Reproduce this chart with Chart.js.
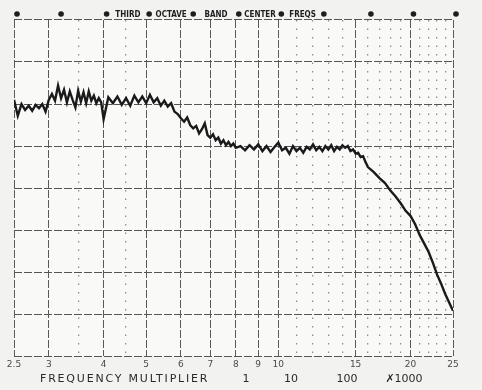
<!DOCTYPE html>
<html>
<head>
<meta charset="utf-8">
<script src="https://cdn.jsdelivr.net/npm/chart.js@4"></script>
<style>
  html, body { margin: 0; padding: 0; background: #f2f2f0; }
  #wrap { width: 482px; height: 390px; }
</style>
</head>
<body>
<div id="wrap"><canvas id="responseChart" width="482" height="390"></canvas></div>
<script>
// frequency (x) of each reading
const freqs = [
    2.5, 2.55, 2.6, 2.65, 2.7, 2.75, 2.8, 2.85, 2.9, 2.95,
    3.0, 3.05, 3.1, 3.15, 3.2, 3.25, 3.3, 3.35, 3.4, 3.45,
    3.5, 3.55, 3.6, 3.65, 3.7, 3.75, 3.8, 3.85, 3.9, 3.95, 4.0,
    4.1, 4.2, 4.3, 4.4, 4.5, 4.6, 4.7, 4.8, 4.9, 5.0,
    5.1, 5.2, 5.3, 5.4, 5.5, 5.6, 5.7, 5.8, 5.9, 6.0,
    6.1, 6.2, 6.3, 6.4, 6.5, 6.6, 6.7, 6.8, 6.9, 7.0,
    7.1, 7.2, 7.3, 7.4, 7.5, 7.6, 7.7, 7.8, 7.9, 8.0,
    8.2, 8.4, 8.6, 8.8, 9.0, 9.2, 9.4, 9.6, 9.8, 10.0,
    10.2, 10.4, 10.6, 10.8, 11.0, 11.2, 11.4, 11.6, 11.8, 12.0,
    12.2, 12.4, 12.6, 12.8, 13.0, 13.2, 13.4, 13.6, 13.8, 14.0,
    14.2, 14.4, 14.6, 14.8, 15.0, 15.2, 15.4, 15.6, 15.8, 16.0,
    16.5, 17, 17.5, 18, 18.5, 19, 19.5, 20, 20.5,
    21, 21.5, 22, 22.5, 23, 23.5, 24, 24.5, 25
];

// recorded level (dB, 5 dB per division)
const levels = [
    30.5, 28.6, 30.0, 29.3, 29.8, 29.2, 29.9, 29.5, 30.0, 29.1,
    30.5, 31.2, 30.4, 32.2, 30.7, 31.7, 30.2, 31.5, 30.5, 29.6,
    31.6, 30.3, 31.4, 30.1, 31.5, 30.4, 31.0, 30.1, 30.7, 30.2, 28.2,
    30.8, 30.1, 30.9, 29.9, 30.7, 29.8, 31.0, 30.2, 30.9, 30.1,
    31.1, 30.2, 30.7, 29.8, 30.4, 29.7, 30.1, 29.1, 28.8, 28.3,
    27.9, 28.4, 27.5, 27.1, 27.4, 26.5, 27.0, 27.7, 26.3, 26.0,
    26.4, 25.7, 26.0, 25.3, 25.7, 25.1, 25.5, 25.0, 25.3, 24.8,
    25.0, 24.5, 25.1, 24.6, 25.2, 24.4, 25.0, 24.3, 24.9, 25.4,
    24.5, 24.8, 24.1, 25.0, 24.4, 24.8, 24.2, 24.9, 24.6, 25.2,
    24.5, 24.9, 24.4, 25.0, 24.6, 25.1, 24.4, 24.9, 24.6, 25.1,
    24.8, 25.0, 24.4, 24.6, 24.1, 24.2, 23.7, 23.8, 23.1, 22.5,
    21.9, 21.2, 20.6, 19.7, 19.0, 18.2, 17.3, 16.7, 15.7,
    14.4, 13.4, 12.4, 11.1, 9.7, 8.6, 7.4, 6.4, 5.4
];

const majorTicks = [2.5, 3, 4, 5, 6, 7, 8, 9, 10, 15, 20, 25];
const minorTicks = [3.5, 4.5, 11, 12, 13, 14, 16, 17, 18, 19, 21, 22, 23, 24];
const bandCenters = [2.5, 3.15, 4, 5, 6.3, 8, 10, 12.5, 16, 20, 25];
const bandWords = ['THIRD', 'OCTAVE', 'BAND', 'CENTER', 'FREQS'];
const axisTitle = 'FREQUENCY MULTIPLIER';
const multipliers = ['1', '10', '100', '\u27171000'];

const isMajor = v => majorTicks.includes(v);

// paper colour behind everything, slightly whiter inside the grid
const paperPlugin = {
    id: 'paper',
    beforeDraw(chart) {
        const ctx = chart.ctx;
        const a = chart.chartArea;
        ctx.save();
        ctx.fillStyle = '#f2f2f0';
        ctx.fillRect(0, 0, chart.width, chart.height);
        ctx.fillStyle = '#f9f9f8';
        ctx.fillRect(a.left, a.top, a.right - a.left, a.bottom - a.top);
        ctx.restore();
    }
};

// band center dots + words on top, multiplier row at bottom
const legendPlugin = {
    id: 'chartPaperText',
    afterDraw(chart) {
        const ctx = chart.ctx;
        const xs = chart.scales.x;
        const area = chart.chartArea;
        const yTop = area.top - 6;
        ctx.save();
        ctx.fillStyle = '#1e1e1e';
        bandCenters.forEach(f => {
            ctx.beginPath();
            ctx.arc(xs.getPixelForValue(f) + 3, yTop, 2.8, 0, Math.PI * 2);
            ctx.fill();
        });
        ctx.font = 'bold 8px "DejaVu Sans Condensed", "DejaVu Sans"';
        ctx.textAlign = 'center';
        ctx.textBaseline = 'middle';
        bandWords.forEach((w, i) => {
            const a = xs.getPixelForValue(bandCenters[i + 2]);
            const b = xs.getPixelForValue(bandCenters[i + 3]);
            ctx.fillText(w, (a + b) / 2 + 3, yTop + 0.5);
        });

        // bottom row
        const yBot = 379;
        ctx.fillStyle = '#2a2a2a';
        ctx.font = '11px "DejaVu Sans"';
        ctx.textAlign = 'left';
        const spaced = 'letterSpacing' in ctx;
        if (spaced) ctx.letterSpacing = '1.8px';
        ctx.fillText(axisTitle, area.left + 26, yBot);
        if (spaced) ctx.letterSpacing = '0px';
        ctx.textAlign = 'center';
        const centers = [246, 291, 347, 404];
        multipliers.forEach((m, i) => ctx.fillText(m, centers[i], yBot));
        ctx.restore();
    }
};

const ctx = document.getElementById('responseChart').getContext('2d');
new Chart(ctx, {
    type: 'line',
    data: {
        datasets: [{
            label: 'Response',
            data: freqs.map((f, i) => ({ x: f, y: levels[i] })),
            borderColor: '#1a1a1a',
            borderWidth: 2.4,
            pointRadius: 0,
            tension: 0,
            fill: false
        }]
    },
    options: {
        responsive: false,
        animation: false,
        layout: {
            padding: { left: 14, right: 29, top: 20, bottom: 17 }
        },
        plugins: {
            legend: { display: false },
            tooltip: { enabled: false }
        },
        scales: {
            x: {
                type: 'logarithmic',
                min: 2.5,
                max: 25,
                afterBuildTicks: scale => {
                    scale.ticks = majorTicks.concat(minorTicks)
                        .sort((a, b) => a - b)
                        .map(v => ({ value: v }));
                },
                ticks: {
                    autoSkip: false,
                    maxRotation: 0,
                    padding: 3,
                    color: '#4a4a4a',
                    font: { family: 'DejaVu Sans', size: 9 },
                    callback: v => isMajor(v) ? String(v) : ''
                },
                grid: {
                    drawTicks: false,
                    color: c => (c.tick && isMajor(c.tick.value)) ? '#5a5a5a' : '#8e8e8e',
                    lineWidth: c => (c.tick && isMajor(c.tick.value)) ? 1 : 1.3
                },
                border: {
                    display: false,
                    dash: c => (c.tick && isMajor(c.tick.value)) ? [8, 2] : [1.5, 7]
                }
            },
            y: {
                min: 0,
                max: 40,
                ticks: { display: false, stepSize: 5 },
                grid: {
                    drawTicks: false,
                    color: '#555555',
                    lineWidth: 1.1
                },
                border: { display: false, dash: [8, 2] }
            }
        }
    },
    plugins: [paperPlugin, legendPlugin]
});
</script>
</body>
</html>
